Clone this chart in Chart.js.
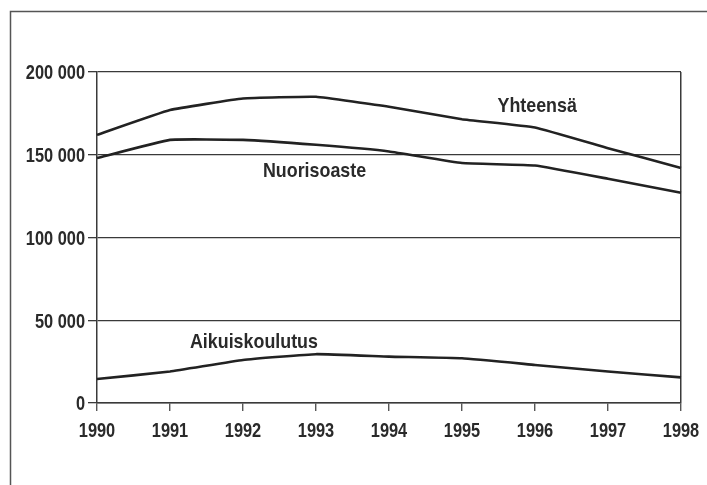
<!DOCTYPE html>
<html>
<head>
<meta charset="utf-8">
<script src="https://cdn.jsdelivr.net/npm/chart.js@4/dist/chart.umd.min.js"></script>
<style>
  html, body { margin: 0; padding: 0; background: #fff; }
  #wrap { width: 707px; height: 485px; }
</style>
</head>
<body>
<div id="wrap"><canvas id="chart" width="707" height="485"></canvas></div>
<script>
// --- DATA ---
const years = ['1990', '1991', '1992', '1993', '1994', '1995', '1996', '1997', '1998'];
const yhteensa = [162000, 177000, 184000, 185000, 179000, 171500, 166500, 154000, 142000];
const nuorisoaste = [148000, 159000, 159000, 156000, 152000, 145000, 143500, 135500, 127000];
const aikuiskoulutus = [14500, 19000, 26000, 29500, 28000, 27000, 23000, 19000, 15500];
const yTicks = [0, 50000, 100000, 150000, 200000];

// series names written next to the lines (anchor in data units: year index, value)
const seriesLabels = [
    { text: 'Yhteensä', x: 6.03, y: 179400 },
    { text: 'Nuorisoaste', x: 2.98, y: 140200 },
    { text: 'Aikuiskoulutus', x: 2.15, y: 37000 }
];

// --- STYLE ---
const fontFamily = "'Liberation Sans', Arial, sans-serif";
const textFont = 'bold 21px ' + fontFamily;
const digitSqueeze = 0.78; // the print uses a condensed face
const wordSqueeze = 0.85;
const ink = '#222';
const textInk = '#2a2a2a';
const gridInk = '#3a3a3a';

function fmtThousands(v) {
    return String(v).replace(/\B(?=(\d{3})+(?!\d))/g, ' ');
}

// draw text horizontally squeezed, to mimic a condensed typeface
function condensedText(ctx, text, x, y, align, baseline, sx) {
    ctx.save();
    ctx.translate(x, y);
    ctx.scale(sx, 1);
    ctx.font = textFont;
    ctx.fillStyle = textInk;
    ctx.textAlign = align;
    ctx.textBaseline = baseline;
    ctx.fillText(text, 0, 0);
    ctx.restore();
}

// outer frame, tick labels and series names
const decorPlugin = {
    id: 'decor',
    beforeDraw(chart) {
        const ctx = chart.ctx;
        ctx.save();
        ctx.strokeStyle = '#555';
        ctx.lineWidth = 1.5;
        ctx.beginPath();
        ctx.moveTo(10.5, 490);
        ctx.lineTo(10.5, 11.5);
        ctx.lineTo(710, 11.5);
        ctx.stroke();
        ctx.restore();
    },
    afterDraw(chart) {
        const ctx = chart.ctx;
        const xs = chart.scales.x, ys = chart.scales.y;
        xs.ticks.forEach((t, i) => {
            condensedText(ctx, t.label, xs.getPixelForTick(i), xs.bottom - 48.5, 'center', 'alphabetic', digitSqueeze);
        });
        ys.ticks.forEach((t, i) => {
            condensedText(ctx, fmtThousands(t.value), ys.right - 12, ys.getPixelForTick(i) + 1.5, 'right', 'middle', digitSqueeze);
        });
        seriesLabels.forEach(l => {
            condensedText(ctx, l.text, xs.getPixelForValue(l.x), ys.getPixelForValue(l.y), 'center', 'middle', wordSqueeze);
        });
    }
};

const lineStyle = { borderColor: ink, borderWidth: 2.6, pointRadius: 0, tension: 0.1, fill: false };

new Chart(document.getElementById('chart'), {
    type: 'line',
    data: {
        labels: years,
        datasets: [
            { label: 'Yhteensä', data: yhteensa, ...lineStyle },
            { label: 'Nuorisoaste', data: nuorisoaste, ...lineStyle },
            { label: 'Aikuiskoulutus', data: aikuiskoulutus, ...lineStyle }
        ]
    },
    options: {
        responsive: false,
        animation: false,
        layout: { padding: { left: 0, top: 72, right: 26, bottom: 0 } },
        plugins: { legend: { display: false }, tooltip: { enabled: false } },
        scales: {
            x: {
                offset: false,
                afterFit: s => { s.height = 82; },
                border: { display: true, color: gridInk, width: 1.5 },
                grid: {
                    drawOnChartArea: true,
                    color: c => c.index === years.length - 1 ? gridInk : 'rgba(0,0,0,0)',
                    lineWidth: 1.5,
                    drawTicks: true,
                    tickLength: 8,
                    tickColor: gridInk,
                    tickWidth: 1.2
                },
                // labels are painted by decorPlugin in a condensed style
                ticks: { color: 'rgba(0,0,0,0)', font: { family: fontFamily, size: 16 }, padding: 4, maxRotation: 0, autoSkip: false }
            },
            y: {
                min: 0,
                max: 200000,
                afterFit: s => { s.width = 97; },
                afterBuildTicks: s => { s.ticks = yTicks.map(v => ({ value: v })); },
                border: { display: true, color: gridInk, width: 1.5 },
                grid: {
                    color: gridInk,
                    lineWidth: 1.3,
                    drawTicks: true,
                    tickLength: 9,
                    tickColor: gridInk
                },
                ticks: { color: 'rgba(0,0,0,0)', font: { family: fontFamily, size: 16 }, padding: 3, callback: v => fmtThousands(v) }
            }
        }
    },
    plugins: [decorPlugin]
});
</script>
</body>
</html>
